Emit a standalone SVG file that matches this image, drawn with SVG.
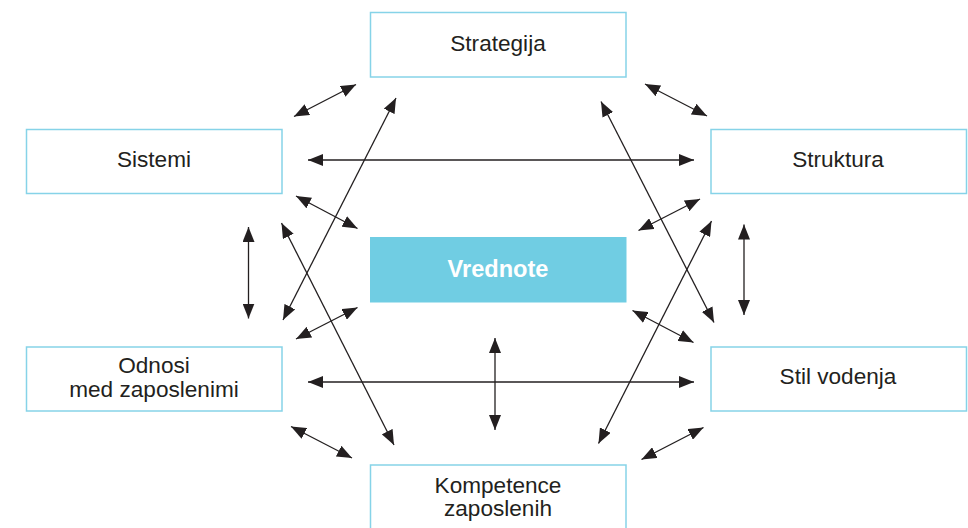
<svg xmlns="http://www.w3.org/2000/svg" width="968" height="528" viewBox="0 0 968 528">
<style>
.box{fill:#ffffff;stroke:#86d3e8;stroke-width:1.5}
.core{fill:#70cde3;stroke:none}
.lbl{font-family:"Liberation Sans",Arial,sans-serif;font-size:22.6px;fill:#231f20;text-anchor:middle}
.clbl{font-family:"Liberation Sans",Arial,sans-serif;font-size:23.6px;font-weight:bold;fill:#ffffff;text-anchor:middle}
.c line{stroke:#231f20;stroke-width:1.3;marker-start:url(#ah);marker-end:url(#ah)}
</style>
<defs>
<marker id="ah" markerUnits="userSpaceOnUse" markerWidth="16" markerHeight="12" refX="15" refY="6" orient="auto-start-reverse" viewBox="0 0 16 12">
<path d="M0,0 L15,6 L0,12 Z" fill="#231f20"/>
</marker>
</defs>
<rect width="968" height="528" fill="#ffffff"/>
<g id="strategija"><rect class="box" x="370.5" y="12.5" width="255.5" height="64.5"/><text class="lbl" x="498" y="51">Strategija</text></g>
<g id="sistemi"><rect class="box" x="26.5" y="129.5" width="255.5" height="64"/><text class="lbl" x="154" y="167">Sistemi</text></g>
<g id="struktura"><rect class="box" x="711" y="129.5" width="255.5" height="64"/><text class="lbl" x="838" y="167">Struktura</text></g>
<g id="vrednote"><rect class="core" x="370" y="237" width="256.5" height="65.5"/><text class="clbl" x="498" y="277">Vrednote</text></g>
<g id="odnosi"><rect class="box" x="26.5" y="347" width="255.5" height="64"/><text class="lbl" x="154" y="373">Odnosi</text><text class="lbl" x="154" y="397">med zaposlenimi</text></g>
<g id="stil"><rect class="box" x="711" y="347" width="255.5" height="64"/><text class="lbl" x="838" y="384">Stil vodenja</text></g>
<g id="kompetence"><rect class="box" x="370.5" y="465" width="255.5" height="70"/><text class="lbl" x="498" y="493">Kompetence</text><text class="lbl" x="498" y="516">zaposlenih</text></g>
<g id="connectors" class="c">
<line x1="294" y1="116.5" x2="356" y2="84.5"/>
<line x1="645" y1="84" x2="707" y2="116"/>
<line x1="308" y1="160" x2="694" y2="160"/>
<line x1="396" y1="98" x2="283" y2="320"/>
<line x1="601" y1="101.5" x2="714" y2="322.5"/>
<line x1="296" y1="196" x2="357.5" y2="228.5"/>
<line x1="700" y1="199" x2="638.5" y2="230.5"/>
<line x1="248.5" y1="227" x2="248.5" y2="318.5"/>
<line x1="744" y1="224.5" x2="744" y2="315"/>
<line x1="281.5" y1="223" x2="394" y2="445"/>
<line x1="711.5" y1="221" x2="598.5" y2="443.5"/>
<line x1="296" y1="339" x2="357.5" y2="307.5"/>
<line x1="632.5" y1="310.5" x2="693.5" y2="342.5"/>
<line x1="308" y1="382" x2="694" y2="382"/>
<line x1="495" y1="338" x2="495" y2="430"/>
<line x1="291" y1="426.5" x2="352" y2="458"/>
<line x1="703.5" y1="427.5" x2="641.5" y2="459.5"/>
</g>
</svg>
